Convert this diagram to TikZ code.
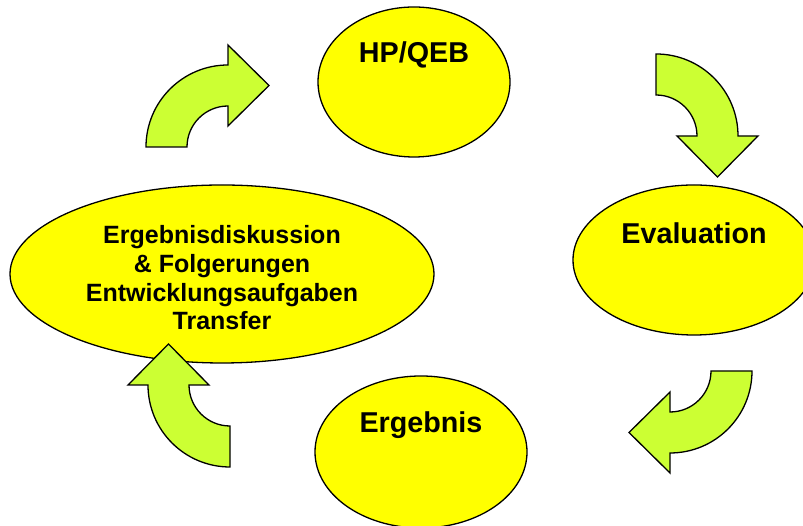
\documentclass[tikz,border=0pt]{standalone}
\usepackage{fontspec}
\setmainfont{Liberation Sans}
\usepackage{xcolor}
\usepackage{tikz}
\usetikzlibrary{positioning}
\usetikzlibrary{shapes}

\definecolor{stageyellow}{RGB}{255,255,0}
\definecolor{turnlime}{RGB}{204,255,51}

\begin{document}
\begin{tikzpicture}[x=1pt, y=1pt,
            stage/.style={draw=black, line width=1.3pt, fill=stageyellow, ellipse, inner sep=0pt,
            align=center, font=\fontsize{25}{28.7}\selectfont\bfseries},
            title/.style={yshift=27pt, font=\fontsize{28.7}{32}\selectfont\bfseries},
            turn/.style={draw=black, line width=1.3pt, fill=turnlime, line join=miter},
            pics/turnarrow/.style={code={
                \draw[turn] (-82,0) arc[start angle=180, end angle=90, radius=82]
                    -- (0,102) -- (41,61.5) -- (0,21) -- (0,41)
                    arc[start angle=90, end angle=180, radius=41] -- cycle;}}]
            \useasboundingbox (0,0) rectangle (803,526);

            \node[stage, minimum width=192pt, minimum height=150pt,
                label={[title]center:HP/QEB}] (hpqeb) at (414,444) {};
            \node[stage, minimum width=242pt, minimum height=150pt,
                label={[title]center:Evaluation}] (eval) at (694,266) {};
            \node[stage, minimum width=212pt, minimum height=152pt,
                label={[title]center:Ergebnis}] (result) at (421,74) {};
            \node[stage, minimum width=424pt, minimum height=178pt] (discuss) at (222,252)
                {\\[-3pt]Ergebnisdiskussion\\ \& Folgerungen\\ Entwicklungsaufgaben\\ Transfer};

            \pic (turnup) at (228,379) {turnarrow};
            \pic[rotate=-90] (turnright) at (656,390) {turnarrow};
            \pic[rotate=180] (turndown) at (670,155) {turnarrow};
            \pic[rotate=90] (turnleft) at (230,141) {turnarrow};
        \end{tikzpicture}
\end{document}
